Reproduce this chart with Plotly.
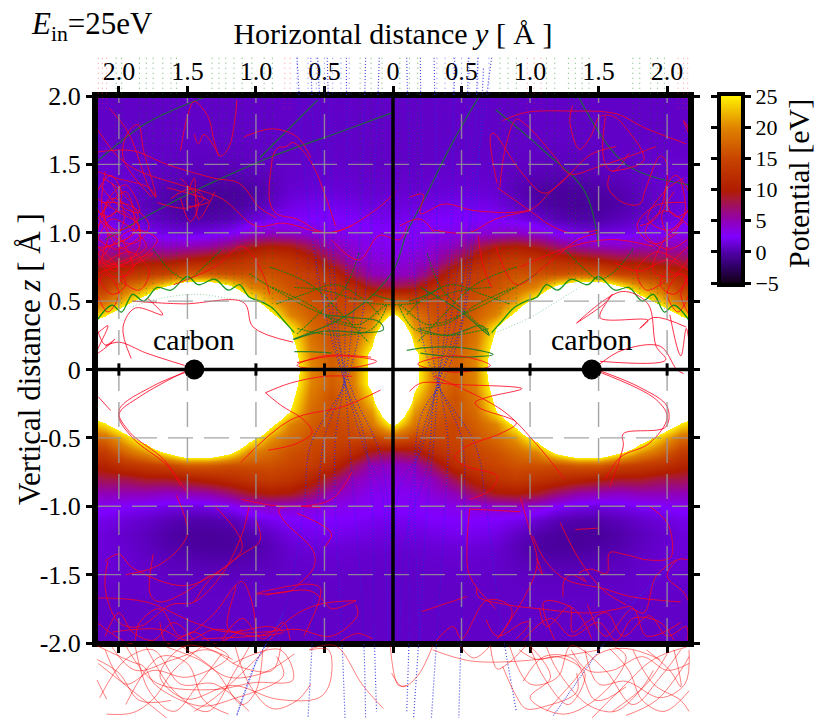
import numpy as np
import plotly.graph_objects as go

FONT = "Liberation Serif"
y_cols = [0, .15, .3, .45, .6, .75, .9, 1.05, 1.2, 1.35, 1.5, 1.65, 1.8, 1.95, 2.1, 2.25]
z_rows = [0, .1, .2, .3, .4, .5, .6, .7, .8, .9, 1.0, 1.1, 1.2, 1.3, 1.4, 1.5, 1.6, 1.7, 1.8, 1.9, 2.0]
potential = [
 [60, 27, 19, 17, 20, 29, 60, 80, 90, 99, 99, 90, 70, 60, 50, 45],
 [55, 27, 19, 17, 20, 28, 50, 70, 80, 90, 90, 80, 65, 55, 45, 40],
 [45, 24, 18, 16, 19, 26.5, 40, 60, 70, 80, 80, 70, 55, 45, 38, 34],
 [33, 21, 17, 16, 18, 25, 33, 48, 60, 68, 68, 60, 46, 36, 30, 27],
 [26, 19, 16, 15, 17, 20, 26.5, 38, 48, 55, 55, 48, 37, 30, 24.5, 22],
 [17, 15, 15, 15, 16, 18, 21, 27, 37, 44, 44, 37, 28, 23, 18, 17],
 [8, 9, 12, 14, 15, 16, 18, 20, 26.5, 31, 31, 26, 21, 18, 14, 13],
 [4.5, 5, 8, 12, 14, 15, 16, 16, 16, 17, 17, 15, 14, 13, 11, 10],
 [3.5, 4, 5, 8, 11, 13, 14, 13, 12, 11, 10, 9, 9, 8, 8, 7],
 [3, 3, 4, 5, 7.5, 9.5, 10, 9, 7, 5.5, 5, 4.5, 5, 5, 5, 5],
 [2.7, 2.8, 3, 3.3, 3.8, 4.2, 4.5, 3.8, 2.5, 1.8, 1.5, 1.8, 2.2, 2.5, 3, 3],
 [2, 2.1, 2.4, 2.5, 2.5, 2.4, 2, 1.2, .4, .1, .1, .5, 1, 1.4, 1.8, 2],
 [1.5, 1.6, 1.8, 2, 2, 1.7, .9, .1, -.3, -.5, -.4, 0, .6, 1, 1.4, 1.6],
 [1.2, 1.2, 1.3, 1.4, 1.4, 1.2, .5, -.2, -.4, -.4, -.1, .2, .7, 1.1, 1.4, 1.5],
 [1, 1, 1.1, 1.1, 1.1, 1, .6, .3, .2, .2, .4, .6, .9, 1.2, 1.3, 1.4],
 [.9, .9, .9, 1, 1, .9, .8, .7, .6, .6, .7, .8, 1, 1.1, 1.2, 1.2],
 [.9, .9, .9, .9, .9, .9, .9, .8, .8, .8, .8, .9, 1, 1, 1, 1],
 [.9, .9, .9, .9, .9, .9, .9, .9, .9, .9, .9, .9, .9, .9, .9, .9],
 [.9, .9, .9, .9, .9, .9, .9, .9, .9, .9, .9, .9, .9, .9, .9, .9],
 [.9, .9, .9, .9, .9, .9, .9, .9, .9, .9, .9, .9, .9, .9, .9, .9],
 [.9, .9, .9, .9, .9, .9, .9, .9, .9, .9, .9, .9, .9, .9, .9, .9],
]
color_stops = [(-5, "#120014"), (-2.5, "#2c0060"), (0, "#5000a8"), (2.5, "#8000ff"), (5, "#9000b8"),
               (7.5, "#a01060"), (8.5, "#a81838"), (10, "#b01c00"), (15, "#c84400"), (20, "#e08400"),
               (25, "#fff000"), (25.01, "#ffffff"), (100, "#ffffff")]

x_ticks = [-2, -1.5, -1, -.5, 0, .5, 1, 1.5, 2]
x_labels = ["2.0", "1.5", "1.0", "0.5", "0", "0.5", "1.0", "1.5", "2.0"]
z_ticks = [-2, -1.5, -1, -.5, 0, .5, 1, 1.5, 2]
z_labels = ["-2.0", "-1.5", "-1.0", "-0.5", "0", "0.5", "1.0", "1.5", "2.0"]
carbon_y = [-1.45, 1.45]
carbon_z = [0, 0]

red_top_left = [
 [(-1.55,1.6),(-1.5,1.85),(-1.45,1.96),(-1.35,1.85),(-1.3,1.65),(-1.26,1.56),(-1.2,1.62),(-1.15,1.85),(-1.14,1.97)],
 [(-1.45,1.72),(-1.42,1.65),(-1.38,1.72),(-1.3,1.62),(-1.27,1.56)],
 [(-.88,1.55),(-.84,1.62),(-.78,1.63),(-.73,1.66),(-.6,1.52),(-.49,1.26),(-.42,1.05)],
 [(-1.09,1.7),(-.88,1.76),(-.7,1.7),(-.6,1.55)],
 [(-.88,1.55),(-.9,1.23),(-.85,1.14),(-.7,1.1),(-.5,1.0),(-.3,1.05)],
 [(-2.07,1.91),(-1.93,1.73),(-1.78,1.33),(-1.73,1.26),(-1.82,1.6),(-1.86,1.79),(-1.93,1.74),(-1.97,1.55),(-1.76,1.26)],
 [(-2.16,1.59),(-1.9,1.6),(-1.65,1.5),(-1.31,1.4),(-1.12,1.36),(-.97,1.18),(-.85,1.11)],
 [(-2.16,1.45),(-2.02,1.4),(-1.78,1.33),(-1.73,1.26)],
 [(-1.65,1.33),(-1.34,1.23),(-1.5,1.2),(-1.45,1.4),(-1.42,1.1),(-1.3,1.3)],
 [(-2.16,1.76),(-2,1.55),(-1.85,1.45),(-1.55,1.35),(-1.25,1.25),(-1,1.05),(-.8,1.07),(-.45,1.0),(-.15,1.15),(.02,1.3)],
 [(-2.16,1.25),(-2,1.15),(-1.85,1.05),(-1.95,.95),(-2.16,.9),(-2.05,1.1),(-1.8,.9),(-2.1,.75)],
 [(-2.16,1.1),(-1.95,1.3),(-1.9,1.0),(-2.15,.85),(-1.95,.75),(-1.75,.85),(-2.16,.7)],
 [(-2.14,1.35),(-2,1.2),(-1.85,1.15),(-1.95,1.35),(-2.1,1.2),(-2.05,.95),(-1.9,.85)],
 [(-2.16,1),(-2.05,1.25),(-1.9,1.15),(-1.85,.9),(-2,.75),(-2.16,.8)],
 [(-1.6,.62),(-1.3,.75),(-1.1,.9),(-.95,.7),(-.9,.55)],
 [(-.45,.95),(-.25,.8),(-.1,.98),(.05,.95),(.1,1.05)],
]
red_edge_left = [
 [(-2.16,1.3),(-2.06,1.42),(-1.98,1.28),(-2.06,1.12),(-2.16,1.16)],
 [(-2.16,1.18),(-2.02,1.02),(-1.86,1.1),(-2,1.32),(-2.12,1.4)],
 [(-2.15,.95),(-2.0,.88),(-1.84,1.0),(-1.98,1.16),(-2.16,1.05)],
 [(-2.16,.82),(-2.04,.68),(-1.9,.72),(-1.98,.95),(-2.12,1.08)],
 [(-2.16,.68),(-2.05,.55),(-1.95,.62),(-2.05,.8),(-2.16,.9)],
 [(-2.16,.55),(-2.08,.42),(-2.0,.56),(-2.1,.7),(-2.16,.6)],
 [(-2.13,1.22),(-1.92,1.2),(-1.78,1.05),(-1.9,.92),(-2.08,1.0)],
 [(-2.1,1.45),(-2.12,1.15),(-2.02,.98),(-1.96,1.12),(-2.05,1.36)],
 [(-2.0,.66),(-1.85,.58),(-1.78,.72),(-1.92,.86),(-2.1,.78)],
 [(-2.16,1.12),(-2.08,.98),(-2.12,.8),(-2.02,.72),(-2.0,1.02)],
 [(-2.16,.75),(-2.06,.9),(-1.9,1.02),(-1.72,.95),(-1.85,.8),(-2.02,.62)],
 [(-1.72,1.22),(-1.5,1.18),(-1.38,1.25),(-1.48,1.32),(-1.62,1.25)],
 [(-1.55,1.4),(-1.42,1.22),(-1.48,1.08),(-1.55,1.25)],
]
red_edge_right = [
 [(2.16,1.3),(2.06,1.42),(1.98,1.28),(2.06,1.12),(2.16,1.16)],
 [(2.16,1.18),(2.02,1.02),(1.86,1.1),(2,1.32),(2.12,1.4)],
 [(2.15,.95),(2.0,.88),(1.84,1.0),(1.98,1.16),(2.16,1.05)],
 [(2.16,.82),(2.04,.68),(1.9,.72),(1.98,.95),(2.12,1.08)],
 [(2.16,.68),(2.05,.55),(1.95,.62),(2.05,.8),(2.16,.9)],
 [(2.16,.55),(2.08,.42),(2.0,.56),(2.1,.7),(2.16,.6)],
 [(2.13,1.22),(1.92,1.2),(1.78,1.05),(1.9,.92),(2.08,1.0)],
 [(2.1,1.38),(2.13,1.15),(2.02,.98),(1.96,1.12),(2.05,1.3)],
 [(2.0,.66),(1.85,.58),(1.78,.72),(1.92,.86),(2.1,.78)],
 [(2.16,.4),(2.1,.55),(2.14,.68),(2.02,.72),(2.0,.95)],
 [(1.62,.78),(1.8,.72),(2,.8),(2.16,.72)],
 [(2.16,1.72),(2.12,1.82),(2.16,1.76)],
]
red_top_right = [
 [(.8,1.82),(.97,1.88),(1.27,1.89),(1.63,1.87),(1.83,1.77),(2.14,1.65)],
 [(.76,1.36),(.71,1.7),(.73,1.73),(.93,1.45),(1.1,1.29),(1.22,1.36),(1.44,1.57),(1.63,1.63)],
 [(.78,1.33),(.82,1.62),(.9,1.83),(.97,1.79),(1.17,1.57),(1.29,1.43),(1.49,1.48),(1.92,1.63)],
 [(1.31,1.93),(1.29,1.82),(1.36,1.61),(1.44,1.7),(1.51,1.85),(1.61,1.85),(1.68,1.79),(1.83,1.53),(1.6,1.45)],
 [(1.55,1.85),(1.53,1.6),(1.56,1.48),(1.61,1.45),(1.72,1.58)],
 [(1.58,1.42),(1.57,1.33),(1.68,1.22),(1.8,1.21),(1.84,1.31),(1.95,1.56),(2.0,1.5),(1.92,1.11),(1.8,1.05)],
 [(.76,1.33),(1.0,1.16),(1.14,1.06),(1.29,1.0),(1.5,1.02)],
 [(.12,1.26),(.22,1.28),(.2,1.14),(.37,1.21),(.61,1.16),(1.0,1.17),(1.15,1.3),(1.29,1.43)],
 [(.3,1.02),(.55,1.0),(.75,1.1),(1.0,1.16)],
 [(.75,.9),(.9,.62),(1.1,.75),(1.35,.95),(1.5,1.0)],
 [(.93,.75),(1.3,.9),(1.6,.95),(1.9,.9)],
 [(.62,.98),(.66,.75),(.72,.6)],
 [(.05,1.05),(.2,1.1),(.3,1.0)],
]
red_mid = [
 [(-1.51,-.02),(-1.75,-.12),(-2.0,-.3),(-1.92,-.46),(-1.67,-.66),(-1.55,-.85)],
 [(-1.51,-.01),(-1.85,-.2),(-2.0,-.33),(-1.9,-.5),(-1.65,-.7),(-1.5,-.9)],
 [(-1.52,.03),(-1.8,.12),(-2.0,.2),(-2.1,.17)],
 [(-1.91,.08),(-1.97,.31),(-1.88,.45),(-1.68,.4),(-1.79,.52)],
 [(-1.9,.5),(-1.53,.48),(-1.09,.49),(-1.02,.31),(-.73,.2)],
 [(-2.16,.3),(-2.1,.18),(-2.03,.22),(-2.16,.12),(-2.08,.32),(-2.16,.26)],
 [(-2.15,-.2),(-2.06,-.3)],
 [(-.7,.05),(-.4,.1),(-.12,.06),(-.4,0),(-.7,.03),(-.5,.1),(-.16,.09)],
 [(-.93,-.17),(-.75,-.1),(-.5,-.05),(-.3,-.05)],
 [(-.93,-.17),(-.82,-.26),(-.65,-.37),(-.59,-.46),(-.7,-.54),(-.91,-.59)],
 [(-.09,-.15),(-.36,-.27),(-.75,-.37),(-1.11,-.68)],
 [(.12,-.16),(.2,-.1),(.46,-.11),(.94,-.14),(.7,-.2),(.6,-.24),(.63,-.28),(.9,-.39),(.78,-.47),(.54,-.56),(.45,-.64),(.54,-.71),(.76,-.78),(.71,-.88),(.56,-.95)],
 [(.18,.04),(.46,.1),(.71,.03),(.46,-.02),(.18,.04)],
 [(.3,-.05),(.8,-.3),(1.05,-.55),(1.25,-.8)],
 [(1.51,-.02),(1.92,-.22),(2.0,-.35),(1.87,-.54),(1.66,-.64),(1.55,-.8)],
 [(1.51,-.01),(1.8,-.13),(2,-.27),(1.99,-.42),(1.68,-.47),(1.68,-.56),(1.58,-.86)],
 [(1.51,.04),(1.67,.14),(1.95,.17),(2.07,0),(2.12,-.03)],
 [(1.51,.06),(1.99,.07),(1.92,.17),(1.86,.48),(1.67,.57),(1.34,.34),(1.54,.48),(1.6,.55),(1.51,.38),(1.86,.36),(1.8,.3),(1.9,.38),(2.14,.31)],
 [(2.02,.4),(2.1,.1),(2.14,.3),(2.16,.2)],
 [(-1.1,-.95),(-.8,-1.0),(-.45,-.95),(-.3,-.75)],
]
red_low_left = [
 [(-.53,-1.01),(-.83,-1.02),(-.8,-1.1),(-.58,-1.33),(-.58,-1.45),(-.7,-1.58),(-.75,-1.62),(-1.0,-1.64),(-.62,-1.57),(-.53,-1.6),(-.65,-1.95)],
 [(-2.1,-1.4),(-2.0,-1.35),(-1.9,-1.45),(-1.5,-1.58),(-1.1,-1.35),(-.97,-1.25),(-1,-1.1)],
 [(-2.08,-1.4),(-2.1,-1.6),(-2.0,-1.85),(-1.85,-1.88),(-1.62,-1.72),(-1.45,-1.7),(-1.25,-1.5),(-1.1,-1.2),(-1.05,-1.0)],
 [(-1.75,-1.35),(-1.77,-1.65),(-1.7,-1.7),(-1.5,-1.62),(-1.32,-1.5),(-1.2,-1.5)],
 [(-1.58,-.92),(-1.5,-1.2),(-1.6,-1.35),(-1.75,-1.45),(-1.95,-1.5)],
 [(-2.16,-1.85),(-1.9,-2.0),(-1.85,-1.85),(-1.7,-1.75),(-1.55,-1.95),(-1.32,-1.8),(-1.15,-1.58),(-1.1,-1.55),(-1.03,-1.7),(-1.0,-1.9)],
 [(-.93,-1.65),(-.6,-1.62),(-.5,-1.7),(-.45,-1.75),(-.27,-1.69)],
 [(-.27,-1.69),(-.55,-1.72),(-.75,-1.82),(-.9,-1.98)],
 [(-.27,-1.72),(-.26,-1.8),(-.45,-1.95),(-.7,-1.9),(-.95,-1.92),(-1.2,-1.9),(-1.15,-1.6),(-1.15,-1.58)],
 [(-2.16,-1.67),(-1.8,-1.7),(-1.45,-1.85),(-1.2,-1.92),(-.9,-1.88),(-.8,-1.92),(-1.4,-1.97)],
 [(-2.05,-1.92),(-1.7,-1.9),(-1.5,-1.98),(-1.3,-1.9),(-1.0,-1.95),(-.85,-1.9)],
 [(-1.7,-1.85),(-1.65,-2.0),(-1.45,-1.92),(-1.3,-2.0),(-1.1,-1.9)],
 [(-.4,-2),(-.26,-1.93),(-.15,-1.97)],
 [(-1.3,-1.0),(-1.1,-1.3),(-1.35,-1.55),(-1.45,-1.7)],
 [(-.7,-1.05),(-.45,-1.2),(-.5,-1.3)],
 [(-2.1,-1.95),(-2.0,-1.78),(-1.9,-1.92),(-1.75,-1.98),(-1.6,-1.85),(-1.45,-1.98)],
 [(-1.25,-1.98),(-1.1,-1.82),(-.95,-1.97),(-.8,-1.85),(-.75,-1.98)],
]
red_low_right = [
 [(.21,-1.77),(.54,-1.66)],
 [(.61,-1.6),(.62,-1.66),(.83,-1.72),(1.07,-1.75),(1.44,-1.78),(1.73,-1.73)],
 [(.31,-1.99),(.44,-1.88),(.5,-1.97),(.68,-1.69),(.83,-1.71),(.87,-1.78),(.76,-1.97)],
 [(.68,-1.83),(.76,-1.95),(.95,-1.85),(1,-1.85),(.9,-1.97)],
 [(.93,-.94),(1,-1.19),(1.05,-1.44),(.78,-1.95)],
 [(1.05,-1.44),(1.09,-1.5),(1.05,-1.38)],
 [(1.02,-1.22),(1.12,-1.41),(1.27,-1.54),(1.53,-1.6),(1.73,-1.66),(2.1,-1.7)],
 [(.56,-1.02),(.54,-1.29),(.56,-1.51),(.75,-1.75)],
 [(.56,-1.02),(.93,-1.04)],
 [(1.24,-1.66),(1.25,-1.54),(1.3,-1.5),(1.41,-1.55),(1.36,-1.49),(1.44,-1.46),(1.56,-1.49),(1.58,-1.34),(1.68,-1.35),(1.83,-1.39)],
 [(1.83,-1.39),(2.02,-1.38),(2.04,-1.29),(2,-1.12),(1.87,-1)],
 [(1.33,-1.17),(1.5,-1.16)],
 [(1.22,-1.12),(1.36,-1.39),(1.53,-1.61),(1.7,-1.72)],
 [(2.07,-1.39),(1.92,-1.51),(1.83,-1.78),(1.73,-1.73)],
 [(2.15,-1.39),(2.08,-1.39),(2,-1.51),(2.12,-1.63),(2.16,-1.7)],
 [(1.07,-1.75),(1.12,-1.88),(1.29,-1.73),(1.31,-1.92),(1.44,-1.83),(1.56,-1.78),(1.68,-1.95),(1.87,-1.8),(2,-1.95),(2.14,-1.88),(2.15,-1.98)],
 [(.95,-1.98),(1.15,-1.82),(1.3,-1.95),(1.5,-1.85),(1.63,-1.98),(1.75,-1.82),(1.95,-1.85),(2.05,-1.98)],
 [(1.42,-1.72),(1.55,-1.95),(1.75,-1.75),(1.85,-1.95),(2.1,-1.85)],
 [(1.18,-1.98),(1.1,-1.7),(1.32,-1.75),(1.45,-1.97)],
]
red_under = [
 [(-2.16,-2.27),(-2.09,-2.41)],
 [(-2.16,-2.02),(-1.9,-2.14),(-1.82,-2.17),(-1.73,-2.31),(-1.41,-2.46),(-1.17,-2.41),(-.8,-2.24),(-.85,-2.1)],
 [(-2.09,-2.52),(-1.9,-2.51),(-1.75,-2.41),(-1.6,-2.2),(-1.4,-2.03)],
 [(-1.95,-2.02),(-1.73,-2.29),(-1.29,-2.34),(-1.02,-2.29),(-.73,-2.27),(-.82,-2.05),(-1.17,-2.15)],
 [(-1.17,-2.12),(-1.51,-2.02),(-1.7,-2.24),(-1.51,-2.41),(-1.17,-2.31),(-.85,-2.41),(-.54,-2.4),(-.46,-2.29),(-.47,-2.05),(-.61,-2.05),(-.42,-2.02),(-.22,-2.31),(-.07,-2.48)],
 [(-.02,-2.02),(.04,-2.31),(.1,-2.31)],
 [(-2.1,-2.05),(-1.95,-2.3),(-1.75,-2.2),(-1.5,-2.25),(-1.2,-2.1),(-1.3,-2.03)],
 [(-1.8,-2.03),(-1.6,-2.35),(-1.35,-2.5),(-1.15,-2.2),(-1.05,-2.03)],
 [(-1.55,-2.02),(-1.3,-2.2),(-1.1,-2.45),(-1,-2.35),(-.95,-2.05)],
 [(-2.15,-2.15),(-1.9,-2.35),(-1.65,-2.55)],
 [(-1.45,-2.5),(-1.3,-2.4),(-1,-2.12),(-.9,-2.02)],
 [(.29,-2.02),(.18,-2.24),(.07,-2.32),(-.01,-2.22)],
 [(.29,-2.05),(.56,-2.13),(.95,-2.13),(1.51,-2.05)],
 [(.49,-2.02),(.59,-2.11),(.71,-2.02)],
 [(.71,-2.02),(.76,-2.19),(.85,-2.14),(.97,-2.02)],
 [(.8,-2.17),(.9,-2.39),(.97,-2.48),(1.12,-2.46),(1.34,-2.36),(1.34,-2.22)],
 [(.85,-2.02),(1.0,-2.3),(1.2,-2.25),(1.3,-2.02),(1.55,-2.2),(1.75,-2.45),(1.95,-2.25),(2.1,-2.05)],
 [(1.0,-2.02),(1.15,-2.25),(1.0,-2.4),(1.25,-2.52),(1.55,-2.35),(1.7,-2.1),(1.62,-2.03)],
 [(1.4,-2.05),(1.5,-2.3),(1.7,-2.28),(1.95,-2.4),(2.13,-2.3),(2.16,-2.05)],
 [(1.75,-2.05),(1.9,-2.3),(2.1,-2.42),(2.16,-2.5)],
 [(1.6,-2.5),(1.85,-2.3),(2.0,-2.08)],
 [(1.45,-2.55),(1.65,-2.35),(1.9,-2.12),(2.14,-2.03)],
 [(-2.05,-2.03),(-1.88,-2.2),(-1.6,-2.12),(-1.35,-2.05),(-1.1,-2.18),(-.88,-2.2),(-.82,-2.03)],
 [(-2.14,-2.4),(-1.95,-2.12),(-1.75,-2.05),(-1.55,-2.3),(-1.3,-2.3),(-1.05,-2.5)],
 [(-1.88,-2.03),(-1.78,-2.35),(-1.6,-2.5),(-1.42,-2.3),(-1.25,-2.08)],
 [(-1.65,-2.03),(-1.42,-2.12),(-1.2,-2.25),(-.95,-2.22),(-.72,-2.08)],
 [(-1.95,-2.45),(-1.7,-2.1),(-1.5,-2.15),(-1.38,-2.42),(-1.2,-2.52)],
 [(-1.15,-2.03),(-1.05,-2.3),(-.88,-2.48),(-.7,-2.42),(-.6,-2.3)],
 [(-2.16,-2.12),(-2.0,-2.22),(-1.85,-2.42),(-1.62,-2.42)],
 [(.92,-2.05),(1.05,-2.12),(1.2,-2.1),(1.4,-2.22),(1.28,-2.45),(1.1,-2.25),(1.0,-2.03)],
 [(1.12,-2.03),(1.2,-2.2),(1.42,-2.45),(1.62,-2.5),(1.8,-2.35),(1.9,-2.2)],
 [(1.3,-2.05),(1.42,-2.2),(1.6,-2.2),(1.82,-2.1),(2.0,-2.2),(2.16,-2.15)],
 [(1.58,-2.04),(1.72,-2.2),(1.82,-2.42),(1.98,-2.5),(2.16,-2.35)],
 [(1.85,-2.05),(2.02,-2.2),(2.1,-2.32),(2.05,-2.05)],
 [(1.12,-2.5),(1.3,-2.3),(1.5,-2.08),(1.7,-2.04),(1.95,-2.12)],
 [(1.7,-2.53),(1.92,-2.42),(2.1,-2.2),(2.16,-2.1)],
 [(.95,-2.28),(1.1,-2.1),(1.32,-2.12),(1.48,-2.42),(1.7,-2.32)],
]
blue_paths = [
 [(.72,2.28),(.58,1.2),(.5,.35),(.33,-.1),(.2,-.6),(.05,-.86),(.02,-1.5),(.01,-2.0)],
 [(.62,2.28),(.55,1),(.45,.3),(.33,-.1),(.22,-.45),(.12,-1),(.12,-1.8),(.1,-2.5)],
 [(.45,2.28),(.42,1),(.38,.3),(.33,-.1),(.3,-.5),(.25,-1),(.2,-1.8),(.15,-2.55)],
 [(.3,2.28),(.32,1),(.33,.3),(.34,-.1),(.4,-.5),(.38,-1),(.33,-1.8),(.28,-2.55)],
 [(.2,2.28),(.22,1),(.27,.3),(.33,-.1),(.5,-.5),(.52,-1),(.5,-1.8),(.48,-2.55)],
 [(.1,2.28),(.14,1),(.2,.3),(.32,-.1),(.6,-.55),(.68,-1),(.78,-1.8),(.9,-2.5)],
 [(.55,2.28),(.5,1),(.4,.25),(.3,-.2),(.25,-.7),(.1,-1.2),(.05,-2)],
 [(.66,2.2),(.6,1.1),(.52,.4),(.38,-.05),(.2,-.35),(.16,-.9),(.2,-2)],
 [(-.7,2.28),(-.62,1.2),(-.48,.35),(-.35,-.1),(-.2,-.6),(-.08,-.9),(-.05,-1.5),(-.03,-2)],
 [(-.6,2.28),(-.54,1),(-.44,.3),(-.35,-.1),(-.22,-.45),(-.15,-1),(-.14,-1.8),(-.12,-2.5)],
 [(-.48,2.28),(-.44,1),(-.4,.3),(-.35,-.1),(-.32,-.5),(-.28,-1),(-.22,-1.8),(-.2,-2.55)],
 [(-.34,2.28),(-.34,1),(-.35,.3),(-.36,-.1),(-.42,-.5),(-.42,-1),(-.38,-1.8),(-.35,-2.55)],
 [(-.2,2.28),(-.24,1),(-.3,.3),(-.36,-.1),(-.5,-.5),(-.55,-1),(-.58,-1.8),(-.62,-2.55)],
 [(-.1,2.28),(-.16,1),(-.24,.3),(-.35,-.1),(-.6,-.55),(-.65,-1),(-.8,-1.78),(-1,-2.14),(-1.14,-2.53)],
 [(-.55,2.28),(-.48,1),(-.42,.3),(-.3,-.15),(-.1,-.6),(-.02,-1.2),(.0,-2)],
]
blue_straight = [
 [(1.17,-2.53),(1.51,-2.05),(1.73,-1.73),(2.07,-1.39)],
 [(-.8,-1.78),(-1,-2.14),(-1.14,-2.53)],
]
green_lines = [
 [(-2.1,.95),(-1.5,1.28),(-.9,1.55),(-.35,1.75),(0,1.88)],
 [(-2.16,1.52),(-1.8,1.8),(-1.35,2.0)],
 [(-.97,1.55),(-.55,1.97)],
 [(-.73,.22),(-.3,.42),(0,.72),(.1,1.0),(.22,1.23),(.44,1.67),(.63,2.0)],
 [(-.72,.13),(-.6,.13),(-.45,.12)],
 [(-.72,.22),(-.5,.28),(-.2,.27),(-.07,.29),(-.1,.35),(-.3,.38),(-.5,.4)],
 [(.1,.14),(.24,.16),(.5,.16),(.73,.11),(.5,.09),(.2,.12)],
 [(.18,.3),(.4,.25),(.65,.32),(.7,.25),(.5,.42),(.2,.6)],
 [(-.15,.55),(.1,.5),(.35,.6)],
 [(.75,1.9),(1.1,1.6),(1.4,1.3),(1.5,.9)],
 [(1.35,2.0),(1.7,1.5),(2.16,1.35)],
]
green_ridge = [
 [(-2.16,.36),(-2.05,.47),(-1.98,.42),(-1.9,.55),(-1.82,.5),(-1.72,.6),(-1.62,.58),(-1.5,.68),(-1.42,.62),(-1.3,.66),(-1.2,.58),(-1.12,.62),(-1.05,.53),(-.97,.5),(-.88,.45),(-.8,.36),(-.72,.27)],
 [(.72,.27),(.8,.36),(.88,.45),(.97,.5),(1.05,.53),(1.12,.62),(1.2,.58),(1.3,.66),(1.42,.62),(1.5,.68),(1.62,.58),(1.72,.6),(1.82,.5),(1.9,.55),(1.98,.42),(2.05,.47),(2.16,.36)],
]
green_channel = [
 [(-.72,.6),(-.5,.58),(-.3,.52),(-.12,.48),(.12,.48),(.3,.52),(.5,.58),(.72,.6)],
 [(-1.05,.7),(-.75,.52),(-.5,.4),(-.25,.33),(-.05,.47),(-.15,.3),(-.4,.25),(-.7,.3)],
 [(1.05,.7),(.75,.52),(.5,.4),(.25,.33),(.05,.47),(.15,.3),(.4,.25),(.7,.3)],
 [(-.9,.75),(-.6,.62),(-.35,.38),(-.18,.2)],
 [(.9,.75),(.6,.62),(.35,.38),(.18,.2)],
 [(-.25,.85),(-.35,.6),(-.55,.4),(-.7,.26)],
 [(.25,.85),(.35,.6),(.55,.4),(.7,.26)],
 [(-.85,.48),(-.65,.55),(-.42,.62),(-.2,.5),(-.1,.4)],
 [(.85,.48),(.65,.55),(.42,.62),(.2,.5),(.1,.4)],
 [(-1.75,.88),(-1.62,.72),(-1.5,.66),(-1.38,.75),(-1.25,.88)],
 [(1.75,.88),(1.62,.72),(1.5,.66),(1.38,.75),(1.25,.88)],
 [(-.88,.6),(-.62,.48),(-.4,.34),(-.2,.3)],
 [(.88,.6),(.62,.48),(.4,.34),(.2,.3)],
]
green_pale = [
 [(-1.9,.46),(-1.7,.52),(-1.42,.55),(-1.2,.52),(-1,.5)],
 [(.7,.25),(1.0,.38),(1.2,.5),(1.36,.6)],
]
drop_green_y = [-2.02, -1.98, -1.85, -1.8, -1.75, -1.68, -1.62, -1.58, -1.32, -1.27, -1.22, -1.16, -1.1, -1.03, -.94, -.88,
                -.24, -.16, -.08, .05, .12, .18, .78, .84, .9, 1.12, 1.18, 1.28, 1.33, 1.38, 1.43, 1.75, 1.8, 1.88, 1.93, 1.98]
drop_green_end = [.43, .45, .52, .53, .57, .58, .6, .62, .66, .65, .62, .6, .57, .54, .47, .43,
                  .48, .47, .46, .46, .45, .4, .38, .42, .47, .57, .59, .63, .63, .64, .64, .57, .55, .5, .47, .43]
drop_red_y = [-2.15, -2.12, -2.09, -.79, -.75, .98, 1.03, 1.08, 2.08, 2.12, 2.15]
drop_red_end = [1.9, 1.9, 1.9, 1.9, 1.9, 1.9, 1.9, 1.9, 1.9, 1.9, 1.9]
drop_blue_y = [-.7, -.62, -.56, -.5, -.44, -.38, -.32, .32, .38, .44, .5, .56, .62, .7]
drop_blue_end = [.6, .6, .6, .6, .6, .6, .6, .6, .6, .6, .6, .6, .6, .6]
drop_top = 2.28

# ---- figure ----
W, H = 816, 718
PLOT_L, PLOT_R, PLOT_T, PLOT_B = 96, 690, 96, 643
Y_SPAN, Z_SPAN = 2.167, 2.0
lo, hi = color_stops[0][0], color_stops[-1][0]
colorscale = [[(v - lo) / (hi - lo), c] for v, c in color_stops]
Z = np.array(potential, float)
full_right = np.vstack([Z[:0:-1], Z])
full = np.hstack([full_right[:, :0:-1], full_right])
xs = [-v for v in y_cols[:0:-1]] + y_cols
zs = [-v for v in z_rows[:0:-1]] + z_rows

# a page-wide overlay with the same data scale lets the trajectories run past the frame
px_per_y = (PLOT_R - PLOT_L) / (2 * Y_SPAN)
px_per_z = (PLOT_B - PLOT_T) / (2 * Z_SPAN)
center_x, center_z = (PLOT_L + PLOT_R) / 2, (PLOT_T + PLOT_B) / 2
over_x = [-center_x / px_per_y, (W - center_x) / px_per_y]
over_z = [(center_z - H) / px_per_z, center_z / px_per_z]

fig = go.Figure()
fig.add_trace(go.Heatmap(x=xs, y=zs, z=full, colorscale=colorscale, zmin=lo, zmax=hi, zsmooth="best",
                         showscale=False, hoverinfo="skip"))
levels = list(np.arange(-5, 25.01, .25))
fig.add_trace(go.Heatmap(x=[0, 1], y=levels, z=[[v, v] for v in levels], colorscale=colorscale, zmin=lo, zmax=hi,
                         zsmooth="best", showscale=False, hoverinfo="skip", xaxis="x2", yaxis="y2"))


def path(pts, color, width, dash="solid", smooth=True):
    fig.add_trace(go.Scatter(x=[p[0] for p in pts], y=[p[1] for p in pts], mode="lines", xaxis="x3", yaxis="y3",
                             hoverinfo="skip",
                             line=dict(color=color, width=width, dash=dash, shape="spline" if smooth else "linear",
                                       smoothing=1.0)))


for ys, ends, col in [(drop_green_y, drop_green_end, "rgba(0,130,0,.55)"),
                      (drop_red_y, drop_red_end, "rgba(255,40,40,.45)"),
                      (drop_blue_y, drop_blue_end, "rgba(40,40,255,.55)")]:
    for a, b in zip(ys, ends):
        path([(a, drop_top), (a, b)], col, 1.1, "1px,4px", False)
for p in green_pale:
    path(p, "rgba(60,170,90,.55)", 1, "1px,2px")
for p in blue_paths:
    path(p, "rgba(40,40,225,.85)", 1.2, "1px,2px")
for p in blue_straight:
    path(p, "rgba(50,60,240,.75)", 1.1, "1px,1px", False)
for p in green_channel:
    path(p, "rgba(0,130,20,.8)", 1.1, "2px,1px")
for p in green_ridge:
    path(p, "rgba(0,140,20,.9)", 1.3, "solid")
for p in green_lines:
    path(p, "rgba(20,120,40,.85)", 1.2, "solid")
for group in (red_top_left, red_edge_left, red_edge_right, red_top_right, red_mid, red_low_left, red_low_right):
    for p in group:
        path(p, "rgba(255,0,30,.9)", .9)
for p in red_under:
    path(p, "rgba(255,0,0,.5)", 1)

fig.add_trace(go.Scatter(x=carbon_y, y=carbon_z, mode="markers", xaxis="x3", yaxis="y3", hoverinfo="skip",
                         marker=dict(color="black", size=20)))

shapes = []
GRID = dict(color="rgba(150,150,150,.85)", width=1.4, dash="25px,11px")
for v in x_ticks:
    if v != 0:
        shapes.append(dict(type="line", xref="x", yref="y", x0=v, x1=v, y0=-2, y1=2, line=GRID, layer="above"))
for v in z_ticks:
    if v != 0 and abs(v) < 2:
        shapes.append(dict(type="line", xref="x", yref="y", x0=-Y_SPAN, x1=Y_SPAN, y0=v, y1=v, line=GRID, layer="above"))
AXIS_LINE = dict(color="black", width=3.5)
shapes.append(dict(type="line", xref="x", yref="y", x0=0, x1=0, y0=-2, y1=2, line=AXIS_LINE, layer="above"))
shapes.append(dict(type="line", xref="x", yref="y", x0=-Y_SPAN, x1=Y_SPAN, y0=0, y1=0, line=AXIS_LINE, layer="above"))
for v in x_ticks:
    if v != 0:
        shapes.append(dict(type="line", xref="x", yref="y", x0=v, x1=v, y0=-.045, y1=.045, line=dict(color="black", width=3), layer="above"))
# frame redrawn above the overlay
for a, b in [(-Y_SPAN, -Y_SPAN), (Y_SPAN, Y_SPAN)]:
    shapes.append(dict(type="line", xref="x", yref="y", x0=a, x1=b, y0=-2, y1=2, line=dict(color="black", width=4), layer="above"))
for c in (-2, 2):
    shapes.append(dict(type="line", xref="x", yref="y", x0=-Y_SPAN, x1=Y_SPAN, y0=c, y1=c, line=dict(color="black", width=4), layer="above"))

tick_font = dict(family=FONT, size=26, color="black")
title_font = dict(family=FONT, size=30, color="black")
fig.update_layout(
    width=W, height=H, margin=dict(l=0, r=0, t=0, b=0), paper_bgcolor="white", plot_bgcolor="rgba(0,0,0,0)",
    showlegend=False, shapes=shapes,
    xaxis=dict(domain=[PLOT_L / W, PLOT_R / W], range=[-Y_SPAN, Y_SPAN], side="top", tickmode="array", tickvals=x_ticks,
               ticktext=x_labels, tickfont=tick_font, ticks="outside", ticklen=6, tickwidth=3, tickcolor="black",
               showline=True, linewidth=4, linecolor="black", mirror="ticks", showgrid=False, zeroline=False,
               layer="above traces", ticklabelstandoff=-4, automargin=False,
               title=dict(text="Horizontal distance <i>y</i> [ Å ]", font=title_font, standoff=4)),
    yaxis=dict(domain=[1 - PLOT_B / H, 1 - PLOT_T / H], range=[-Z_SPAN, Z_SPAN], tickmode="array", tickvals=z_ticks,
               ticktext=z_labels, tickfont=tick_font, ticks="outside", ticklen=6, tickwidth=3, tickcolor="black",
               showline=True, linewidth=4, linecolor="black", mirror="ticks", showgrid=False, zeroline=False,
               layer="above traces", automargin=False),
    xaxis2=dict(domain=[721 / W, 741 / W], range=[0, 1], showticklabels=False, ticks="", showgrid=False,
                zeroline=False, showline=True, linewidth=4, linecolor="black", mirror=True, anchor="y2", layer="above traces"),
    yaxis2=dict(domain=[1 - 283 / H, 1 - 96 / H], range=[-5, 25], side="right", anchor="x2", tickmode="array",
                tickvals=[-5, 0, 5, 10, 15, 20, 25], ticks="outside", ticklen=6, tickwidth=3, tickcolor="black",
                tickfont=dict(family=FONT, size=22, color="black"), showline=True, linewidth=4, linecolor="black",
                mirror="ticks", showgrid=False, zeroline=False, layer="above traces", automargin=False),
    xaxis3=dict(domain=[0, 1], range=over_x, visible=False, anchor="y3"),
    yaxis3=dict(domain=[0, 1], range=over_z, visible=False, anchor="x3"),
    annotations=[
        dict(x=-1.45, y=.22, xref="x", yref="y", text="carbon", showarrow=False, font=title_font),
        dict(x=1.45, y=.22, xref="x", yref="y", text="carbon", showarrow=False, font=title_font),
        dict(x=29 / W, y=1 - 4 / H, xref="paper", yref="paper", xanchor="left", yanchor="top", showarrow=False,
             text="<i>E</i><sub>in</sub>=25eV", font=dict(family=FONT, size=31, color="black")),
        dict(x=798 / W, y=1 - 184 / H, xref="paper", yref="paper", xanchor="center", yanchor="middle", textangle=-90,
             showarrow=False, text="Potential [eV]", font=title_font),
        dict(x=29 / W, y=1 - 359 / H, xref="paper", yref="paper", xanchor="center", yanchor="middle", textangle=-90,
             showarrow=False, text="Vertical distance <i>z</i> [ Å ]", font=dict(family=FONT, size=31, color="black")),
    ],
)
fig.write_html("out.html", config=dict(displayModeBar=False),
               post_script="document.body.style.margin='0';document.documentElement.style.overflow='hidden';")
